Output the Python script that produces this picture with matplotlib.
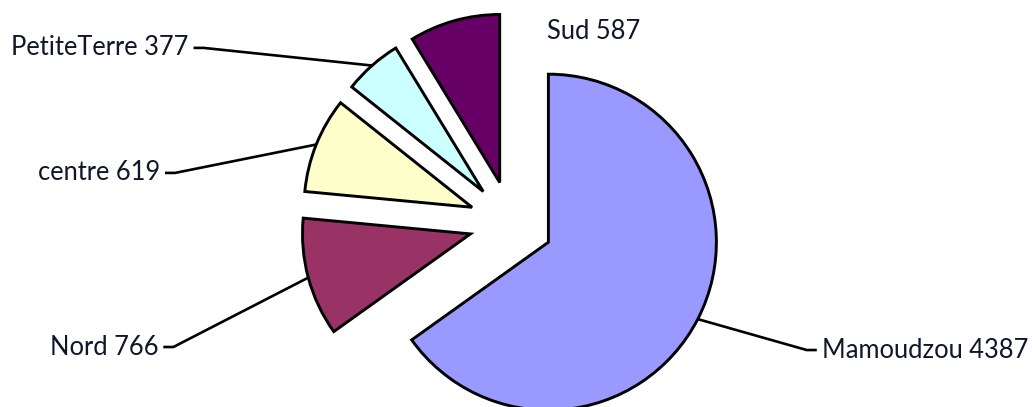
import numpy as np
import matplotlib
matplotlib.use('Agg')
import matplotlib.pyplot as plt

labels = ['Mamoudzou', 'Nord', 'centre', 'PetiteTerre', 'Sud']
values = [4387, 766, 619, 377, 587]
colors = ['#9999FF', '#993366', '#FFFFCC', '#CCFFFF', '#660066']

# label text anchors (data units, pie radius = 1)
label_pos = {
    'Mamoudzou': (1.85, -0.756, 'left'),
    'Nord': (-2.10, -0.738, 'right'),
    'centre': (-2.09, 0.298, 'right'),
    'PetiteTerre': (-1.92, 1.042, 'right'),
    'Sud': (0.214, 1.137, 'left'),
}

plt.rcParams['font.family'] = ['Lato', 'DejaVu Sans']

fig = plt.figure(figsize=(10.32, 4.07), dpi=100)
ax = fig.add_axes([0, 0, 1, 1])

wedges, _ = ax.pie(values, colors=colors, startangle=90, counterclock=False,
                   explode=[0.25] * len(values), radius=1,
                   wedgeprops=dict(edgecolor='black', linewidth=2.1))

txt_col = '#10172b'
stub = 0.06
for w, lab, v in zip(wedges, labels, values):
    x, y, ha = label_pos[lab]
    ax.text(x, y, '%s %d' % (lab, v), ha=ha, va='center', fontsize=18.4, color=txt_col)
    if lab == 'Sud':
        continue
    ang = np.deg2rad((w.theta1 + w.theta2) / 2)
    cx, cy = w.center
    px, py = cx + w.r * np.cos(ang), cy + w.r * np.sin(ang)
    if ha == 'right':
        x0 = x + 0.03
        xs = [x0, x0 + stub, px]
    else:
        x0 = x - 0.03
        xs = [x0, x0 - stub, px]
    ax.plot(xs, [y, y, py], color='black', lw=1.9, solid_capstyle='butt')

ax.set_xlim(-3.042, 3.101)
ax.set_ylim(-1.095, 1.327)
ax.set_aspect('auto')
ax.axis('off')

fig.savefig('out.png', dpi=100)
